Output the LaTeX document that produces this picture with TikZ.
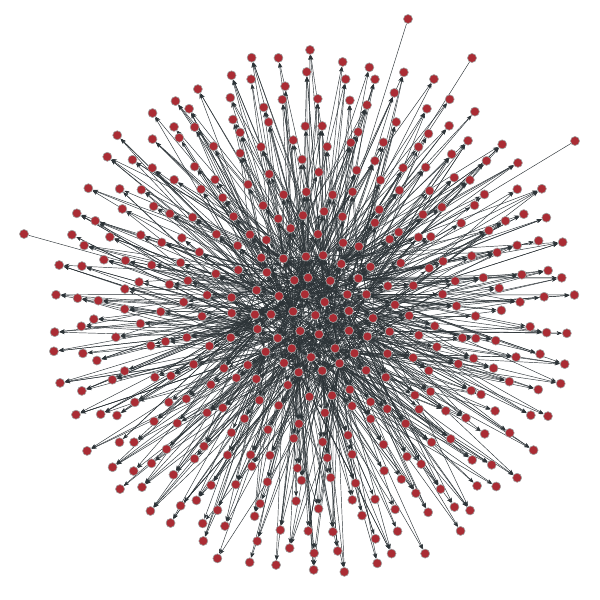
\documentclass[tikz,border=0pt]{standalone}
\usetikzlibrary{arrows.meta}
\definecolor{nodered}{RGB}{170,44,52}
\definecolor{noderim}{RGB}{160,160,160}
\definecolor{edgegray}{RGB}{44,51,55}
\tikzset{
  spot/.style={circle,inner sep=0pt,minimum size=9.6pt},
  vert/.style={circle,fill=nodered,draw=noderim,line width=0.6pt,inner sep=0pt,minimum size=9pt},
  link/.style={draw=edgegray,line width=0.45pt,-{Stealth[length=5pt,width=3.6pt]}},
  farlink/.style={draw=edgegray,line width=0.45pt}
}
\begin{document}
\begin{tikzpicture}[x=1pt,y=-1pt,line cap=round,line join=round]
\useasboundingbox (0,0) rectangle (600,600);
\pgfmathsetseed{11}
% core spots, numbered c1..c37
\foreach \r/\n/\s in {0/1/0,20/6/1,40/12/7,60/18/19}{
  \foreach \k in {1,...,\n}{
    \pgfmathtruncatemacro\id{\s+\k}
    \pgfmathsetmacro\ang{\k/\n*360+\r*0.7+(rnd-0.5)*120/\n}
    \pgfmathsetmacro\rad{\r+(rnd-0.5)*8}
    \pgfmathsetmacro\px{312+\rad*cos(\ang)}
    \pgfmathsetmacro\py{314+\rad*sin(\ang)}
    \node[spot] (c\id) at (\px,\py) {};
  }
}
% links inside the core
\foreach \i in {2,...,37}{
  \foreach \e in {1,...,7}{
    \pgfmathtruncatemacro\src{min(37,1+floor(rnd*37))}
    \ifnum\src=\i\else
      \draw[link] (c\src) -- (c\i);
    \fi
  }
}
% outer rings, each spot fed mostly from core spots lying the same way
\foreach \r/\n [count=\q] in {82/22,104/26,126/30,148/34,170/38,192/42,214/46,236/50,258/54}{
  \foreach \k in {1,...,\n}{
    \pgfmathsetmacro\ang{\k/\n*360+\q*13+(rnd-0.5)*180/\n}
    \pgfmathsetmacro\rad{\r+(rnd-0.5)*14}
    \pgfmathsetmacro\px{312+\rad*cos(\ang)}
    \pgfmathsetmacro\py{314+\rad*sin(\ang)}
    \node[spot] (o\q-\k) at (\px,\py) {};
    \pgfmathtruncatemacro\m{2+floor(rnd*2.99)}
    \foreach \e in {1,...,\m}{
      \pgfmathtruncatemacro\ring{floor(rnd*4.5)}
      \ifcase\ring \def\cn{6}\def\cs{1}\def\cr{20}%
      \or \def\cn{12}\def\cs{7}\def\cr{40}%
      \or \def\cn{18}\def\cs{19}\def\cr{60}%
      \or \def\cn{18}\def\cs{19}\def\cr{60}%
      \else \def\cn{0}\fi
      \ifnum\cn=0
        \pgfmathtruncatemacro\src{min(37,1+floor(rnd*37))}
      \else
        \pgfmathtruncatemacro\kk{mod(round((\ang-\cr*0.7)/360*\cn+(rnd-0.5)*3.4)+10*\cn,\cn)}
        \ifnum\kk=0 \let\kk\cn\fi
        \pgfmathtruncatemacro\src{\cs+\kk}
      \fi
      \draw[link] (c\src) -- (o\q-\k);
    }
  }
}
\node[spot] (far1) at (408,19) {};
\node[spot] (far2) at (472,58) {};
\node[spot] (far3) at (575,141) {};
\node[spot] (far4) at (24,234) {};
\draw[farlink] (c1) -- (far1);
\draw[farlink] (c3) -- (far2);
\draw[farlink] (c4) -- (far3);
\draw[farlink] (c1) -- (far4);
% discs on top
\foreach \i in {1,...,37} \node[vert] at (c\i.center) {};
\foreach \n [count=\q] in {22,26,30,34,38,42,46,50,54}{
  \foreach \k in {1,...,\n} \node[vert] at (o\q-\k.center) {};
}
\foreach \i in {1,...,4} \node[vert] at (far\i.center) {};
\end{tikzpicture}
\end{document}
